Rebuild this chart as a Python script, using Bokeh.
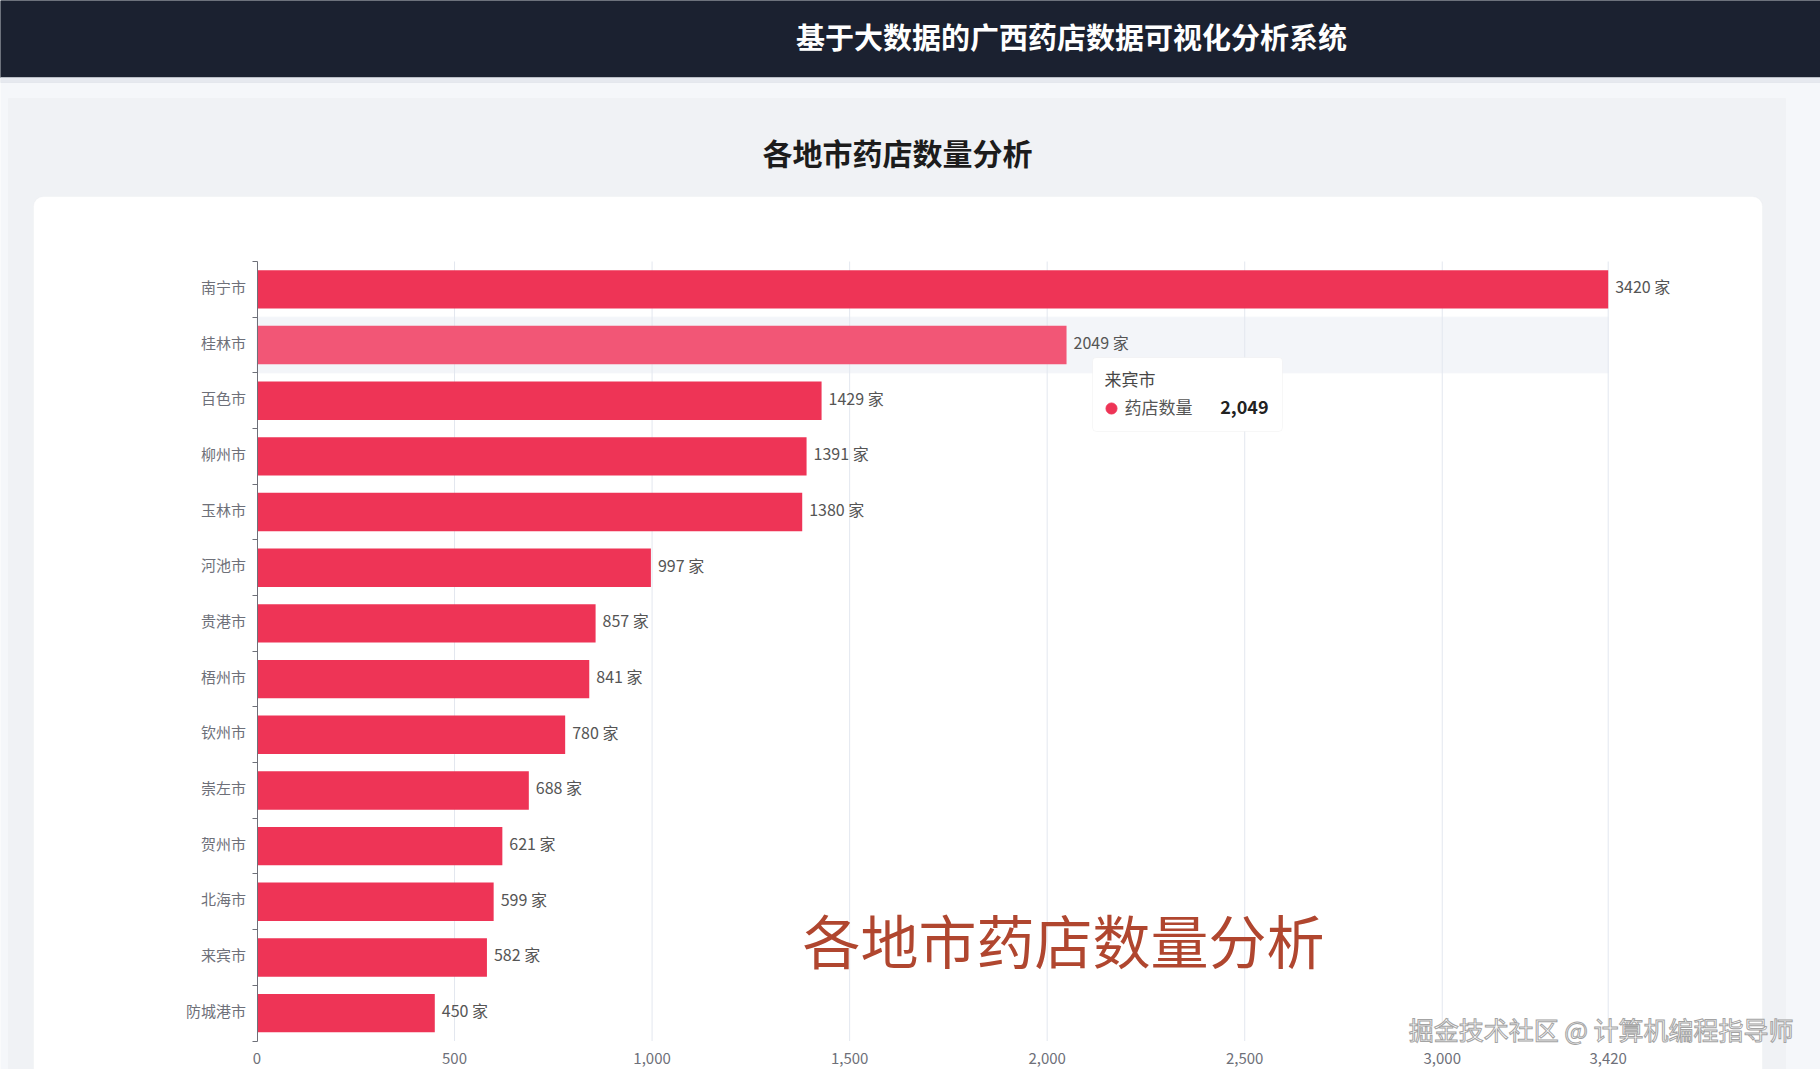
from bokeh.plotting import figure
from bokeh.models import (FixedTicker, NumeralTickFormatter, LinearAxis, BoxAnnotation,
                          Label, Range1d, ColumnDataSource)
from bokeh.core.properties import value
from bokeh.embed import file_html
from bokeh.resources import INLINE

# ---------------- data ----------------
cities = ["南宁市", "桂林市", "百色市", "柳州市", "玉林市", "河池市", "贵港市",
          "梧州市", "钦州市", "崇左市", "贺州市", "北海市", "来宾市", "防城港市"]
counts = [3420, 2049, 1429, 1391, 1380, 997, 857, 841, 780, 688, 621, 599, 582, 450]
x_ticks = [0, 500, 1000, 1500, 2000, 2500, 3000, 3420]
unit = "家"
highlight_city = "桂林市"
tooltip_city = "来宾市"
tooltip_series = "药店数量"
page_title = "基于大数据的广西药店数据可视化分析系统"
chart_title = "各地市药店数量分析"
watermark = "各地市药店数量分析"
credit = "掘金技术社区 @ 计算机编程指导师"

FONT = "Noto Sans CJK SC"
W, H = 1820, 1069
N = len(cities)
XMAX = max(x_ticks)

# pixel placement of the plotting area on the page
PX_L, PX_R = 256.5, 1607.7
PY_T, PY_B = 261.0, 1040.5
kx = (PX_R - PX_L) / XMAX
ky = (PY_B - PY_T) / N
xs0 = -PX_L / kx
xs1 = xs0 + W / kx
yb = -0.5                      # bottom category boundary
ys0 = yb - (H - PY_B) / ky
ys1 = ys0 + H / ky
TXT_LIFT = 3.0 / ky            # CJK glyphs sit low with "middle" baseline


def X(px):
    return xs0 + px / kx


def Y(py):
    return ys1 - py / ky


ys = [N - 1 - i for i in range(N)]
bar_colors = ["#f25676" if c == highlight_city else "#ee3456" for c in cities]
val_labels = [f"{v} {unit}" for v in counts]
src = ColumnDataSource(dict(city=cities, y=ys, v=counts, color=bar_colors, lab=val_labels))

p = figure(width=W, height=H, x_range=Range1d(xs0, xs1), y_range=Range1d(ys0, ys1),
           output_backend="svg", toolbar_location=None, x_axis_type=None, y_axis_type=None,
           min_border=0)
p.min_border_left = p.min_border_right = p.min_border_top = p.min_border_bottom = 0
p.outline_line_color = None
p.background_fill_color = "#f5f7fa"
p.border_fill_color = "#f5f7fa"

# ---------------- page decoration ----------------
p.quad(left=X(8), right=X(1785), top=Y(98), bottom=Y(H + 10), color="#f0f2f5", level="image")
p.quad(left=X(0), right=X(W), top=Y(0), bottom=Y(77), color="#1b2130", level="image")
p.quad(left=X(0), right=X(W), top=Y(77), bottom=Y(82), color="#dfe3e9", alpha=0.7, level="image")
card = BoxAnnotation(left=X(33), right=X(1762), top=Y(196), bottom=Y(H + 30),
                     fill_color="white", fill_alpha=1, line_color="#e8ebf0", line_width=1,
                     border_radius=10, level="image")
p.add_layout(card)

# highlighted band (axis pointer shadow)
hi = cities.index(highlight_city)
p.quad(left=0, right=XMAX, top=ys[hi] + 0.5, bottom=ys[hi] - 0.5,
       color="#f3f5f9", level="underlay")

# vertical split lines at the value ticks
p.segment(x0=x_ticks[1:], y0=yb, x1=x_ticks[1:], y1=N - 0.5,
          line_color="#e3e7ef", line_width=1, level="underlay")

# ---------------- bars ----------------
p.hbar(y="y", left=0, right="v", height=0.69, source=src,
       fill_color="color", line_color=None)
p.text(x="v", y="y", text="lab", source=src, x_offset=7, y_offset=-3, text_baseline="middle",
       text_font=value(FONT), text_font_size="16px", text_color="#555555")

# ---------------- axes ----------------
label_pos = [yy + TXT_LIFT for yy in ys]
yaxis = LinearAxis(fixed_location=0, bounds=(yb, N - 0.5),
                   ticker=FixedTicker(ticks=label_pos, minor_ticks=[k - 0.5 for k in range(N + 1)]))
yaxis.major_label_overrides = {lp: c for lp, c in zip(label_pos, cities)}
yaxis.axis_line_color = "#6e7079"
yaxis.major_tick_out = 0
yaxis.major_tick_in = 0
yaxis.major_tick_line_color = None
yaxis.minor_tick_out = 5
yaxis.minor_tick_in = 0
yaxis.minor_tick_line_color = "#6e7079"
yaxis.major_label_standoff = 6
yaxis.major_label_text_font = FONT
yaxis.major_label_text_font_size = "15px"
yaxis.major_label_text_color = "#6e7079"
p.add_layout(yaxis, "left")

xaxis = LinearAxis(fixed_location=yb, bounds=(0, XMAX), ticker=FixedTicker(ticks=x_ticks),
                   formatter=NumeralTickFormatter(format="0,0"))
xaxis.axis_line_color = None
xaxis.major_tick_line_color = None
xaxis.minor_tick_line_color = None
xaxis.major_label_standoff = 6
xaxis.major_label_text_font = FONT
xaxis.major_label_text_font_size = "15px"
xaxis.major_label_text_color = "#6e7079"
p.add_layout(xaxis, "below")

# ---------------- titles / texts ----------------
p.text(x=[X(1071)], y=[Y(35)], text=[page_title], text_align="center", text_baseline="middle",
       text_font=value(FONT), text_font_size="29px", text_font_style="bold", text_color="#ffffff")
p.text(x=[X(897)], y=[Y(151)], text=[chart_title], text_align="center", text_baseline="middle",
       text_font=value(FONT), text_font_size="30px", text_font_style="bold", text_color="#1c1c1c")
p.text(x=[X(1063)], y=[Y(938)], text=[watermark], text_align="center", text_baseline="middle",
       text_font=value(FONT), text_font_size="58px", text_color="#b0462f")
p.text(x=[X(1793)], y=[Y(1028)], text=[credit], text_align="right", text_baseline="middle",
       text_font=value(FONT), text_font_size="25px", text_color="#ffffff",
       text_outline_color="#a3a3a3")

# ---------------- tooltip ----------------
tip = BoxAnnotation(left=X(1092), right=X(1282), top=Y(357), bottom=Y(431),
                    fill_color="white", fill_alpha=1, line_color="#e4e4e4", line_width=1,
                    border_radius=4)
p.add_layout(tip)
p.add_layout(Label(x=X(1104), y=Y(378), text=tooltip_city, text_baseline="middle",
                   text_font=FONT, text_font_size="17px", text_color="#464646"))
p.add_layout(Label(x=X(1124), y=Y(406), text=tooltip_series, text_baseline="middle",
                   text_font=FONT, text_font_size="17px", text_color="#555555"))
p.add_layout(Label(x=X(1268), y=Y(406), text=f"{counts[hi]:,}", text_baseline="middle",
                   text_align="right", text_font=FONT, text_font_size="18px",
                   text_font_style="bold", text_color="#222222"))
p.scatter(x=[X(1111)], y=[Y(408)], size=11, color="#ee3456", level="overlay")

open("out.html", "w").write(file_html(p, INLINE))
